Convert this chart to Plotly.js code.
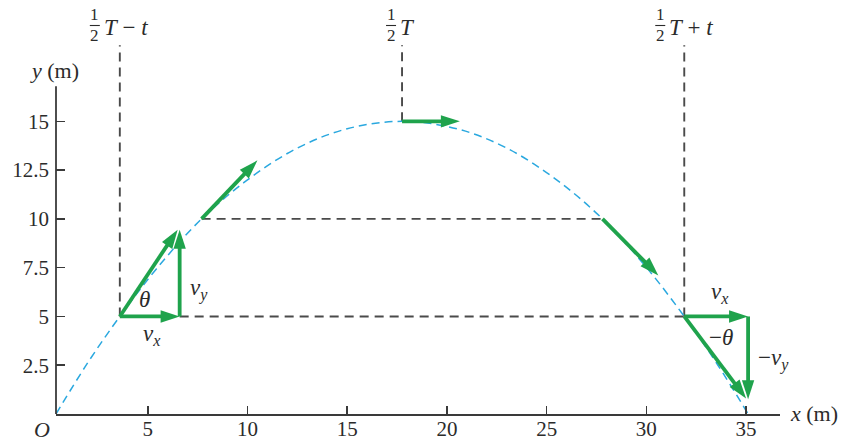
<!DOCTYPE html>
<html>
<head>
<meta charset="utf-8">
<script src="https://cdn.plot.ly/plotly-3.0.1.min.js"></script>
<style>html,body{margin:0;padding:0;background:#fff;}#chart{width:850px;height:439px;}</style>
</head>
<body>
<div id="chart"></div>
<script>
// ---- data ----
var trajX = [0.4, 2, 3.6, 5.5, 7.7, 10, 12.5, 15, 17.75, 20.5, 23, 25.5, 27.8, 30, 31.9, 33.5, 35.1];
var trajY = [0, 2.64, 5, 7.52, 10, 12.0, 13.63, 14.62, 15, 14.62, 13.63, 12.0, 10, 7.52, 5, 2.64, 0];

// velocity arrows tangent to the path
var velStartX = [3.6, 7.7, 17.75, 27.8, 31.9];
var velStartY = [5, 10, 15, 10, 5];
var velEndX = [6.5, 10.5, 20.65, 30.6, 35.0];
var velEndY = [9.45, 13.0, 15, 7.1, 0.8];

// component arrows (vx, vy)
var compStartX = [3.6, 6.6, 31.9, 35.1];
var compStartY = [5, 5, 5, 5];
var compEndX = [6.6, 6.6, 35.1, 35.1];
var compEndY = [5, 9.45, 5, 0.75];

// dashed guide lines
var vGuideX = [3.6, 17.75, 31.9];
var vGuideFromY = [5, 15, 5];
var vGuideToY = 18.9;
var hGuideY = [5, 10];
var hGuideFromX = [6.6, 7.7];
var hGuideToX = [31.9, 27.8];

var xTicks = [5, 10, 15, 20, 25, 30, 35];
var yTicks = [2.5, 5, 7.5, 10, 12.5, 15];
var yTickText = ['2.5', '5', '7.5', '10', '12.5', '15'];

var timeLabels = ['<i>T</i> − <i>t</i>', '<i>T</i>', '<i>T</i> + <i>t</i>'];

// vector labels
var vecLabelText = ['<i>θ</i>', '<i>v<sub>x</sub></i>', '<i>v<sub>y</sub></i>', '<i>v<sub>x</sub></i>', '−<i>θ</i>', '−<i>v<sub>y</sub></i>'];
var vecLabelX = [4.85, 5.2, 7.55, 33.7, 33.75, 36.35];
var vecLabelY = [5.85, 4.05, 6.4, 6.2, 3.9, 2.8];

// ---- styles ----
var GREEN = '#1fa34c';
var BLUE = '#2aa8df';
var GUIDE = '#4a4a4a';
var AX = '#3a3a3a';
var FONT = 'Liberation Serif, DejaVu Serif, serif';
var TXT = '#2b2b2b';

var traces = [];

// guide lines
var gx = [], gy = [];
for (var i = 0; i < vGuideX.length; i++) {
  gx.push(vGuideX[i], vGuideX[i], null);
  gy.push(vGuideFromY[i], vGuideToY, null);
}
for (var j = 0; j < hGuideY.length; j++) {
  gx.push(hGuideFromX[j], hGuideToX[j], null);
  gy.push(hGuideY[j], hGuideY[j], null);
}
traces.push({
  x: gx, y: gy, mode: 'lines', hoverinfo: 'skip', showlegend: false,
  line: {color: GUIDE, width: 1.9, dash: '9px,6px'}
});

// trajectory
traces.push({
  x: trajX, y: trajY, mode: 'lines', hoverinfo: 'skip', showlegend: false,
  line: {color: BLUE, width: 1.5, dash: '8px,5px', shape: 'spline', smoothing: 1.0}
});

// arrows: line + arrow marker pointing along the segment
function arrow(x0, y0, x1, y1) {
  traces.push({
    x: [x0, x1], y: [y0, y1], mode: 'lines+markers', hoverinfo: 'skip', showlegend: false,
    line: {color: GREEN, width: 3.8},
    marker: {symbol: 'arrow', size: [0, 20], angleref: 'previous', color: GREEN,
             opacity: 1, line: {width: 0}},
    cliponaxis: false
  });
}
for (var a = 0; a < velStartX.length; a++) arrow(velStartX[a], velStartY[a], velEndX[a], velEndY[a]);
for (var c = 0; c < compStartX.length; c++) arrow(compStartX[c], compStartY[c], compEndX[c], compEndY[c]);

var annotations = [];
for (var k = 0; k < vecLabelText.length; k++) {
  annotations.push({
    x: vecLabelX[k], y: vecLabelY[k], xref: 'x', yref: 'y', showarrow: false,
    text: vecLabelText[k], font: {family: FONT, size: 23, color: TXT},
    xanchor: 'center', yanchor: 'middle'
  });
}

// time labels above the guide lines
var fracShift = [-25, -11, -24];
var textShift = [-18, -4, -17];
var shapes = [];
function py(p) { return (414 - p) / 374; }
for (var t = 0; t < vGuideX.length; t++) {
  annotations.push({x: vGuideX[t], xref: 'x', y: py(15), yref: 'paper', xshift: fracShift[t],
    text: '1', showarrow: false, font: {family: FONT, size: 17, color: TXT}, xanchor: 'center', yanchor: 'middle'});
  annotations.push({x: vGuideX[t], xref: 'x', y: py(36), yref: 'paper', xshift: fracShift[t],
    text: '2', showarrow: false, font: {family: FONT, size: 17, color: TXT}, xanchor: 'center', yanchor: 'middle'});
  annotations.push({x: vGuideX[t], xref: 'x', y: py(27), yref: 'paper', xshift: textShift[t],
    text: timeLabels[t], showarrow: false, font: {family: FONT, size: 23, color: TXT}, xanchor: 'left', yanchor: 'middle'});
  shapes.push({type: 'line', xref: 'x', xsizemode: 'pixel', xanchor: vGuideX[t],
    x0: fracShift[t] - 5, x1: fracShift[t] + 5, yref: 'paper', y0: py(25.5), y1: py(25.5),
    line: {color: TXT, width: 1.1}});
}

// axis labels and origin
annotations.push({xref: 'paper', yref: 'paper', x: -0.002, y: py(70), text: '<i>y</i> (m)', showarrow: false,
  font: {family: FONT, size: 22, color: TXT}, xanchor: 'center', yanchor: 'middle'});
annotations.push({xref: 'paper', yref: 'paper', x: (788 - 56) / 724, y: py(413), text: '<i>x</i> (m)', showarrow: false,
  font: {family: FONT, size: 22, color: TXT}, xanchor: 'left', yanchor: 'middle'});
annotations.push({xref: 'paper', yref: 'paper', x: (42 - 56) / 724, y: py(429), text: '<i>O</i>', showarrow: false,
  font: {family: FONT, size: 22, color: TXT}, xanchor: 'center', yanchor: 'middle'});

// y axis line (stops at the top of the scale)
shapes.push({type: 'line', xref: 'paper', x0: 0, x1: 0, yref: 'y', y0: 0, y1: 16.8,
  line: {color: AX, width: 1.8}});

var layout = {
  width: 850, height: 439,
  margin: {l: 56, r: 70, t: 40, b: 25},
  paper_bgcolor: '#fff', plot_bgcolor: '#fff',
  showlegend: false,
  xaxis: {
    range: [0.4, 36.7], showgrid: false, zeroline: false,
    showline: true, linecolor: AX, linewidth: 1.8,
    ticks: 'inside', ticklen: 8, tickwidth: 1.5, tickcolor: AX,
    tickvals: xTicks, ticktext: xTicks.map(String),
    tickfont: {family: FONT, size: 21, color: TXT}, ticklabelstandoff: -5
  },
  yaxis: {
    range: [0, 19.17], showgrid: false, zeroline: false, showline: false,
    ticks: 'inside', ticklen: 9, tickwidth: 1.5, tickcolor: AX,
    tickvals: yTicks, ticktext: yTickText,
    tickfont: {family: FONT, size: 21, color: TXT}, ticklabelstandoff: 6
  },
  annotations: annotations,
  shapes: shapes
};

Plotly.newPlot('chart', traces, layout, {displayModeBar: false, staticPlot: true});
</script>
</body>
</html>
